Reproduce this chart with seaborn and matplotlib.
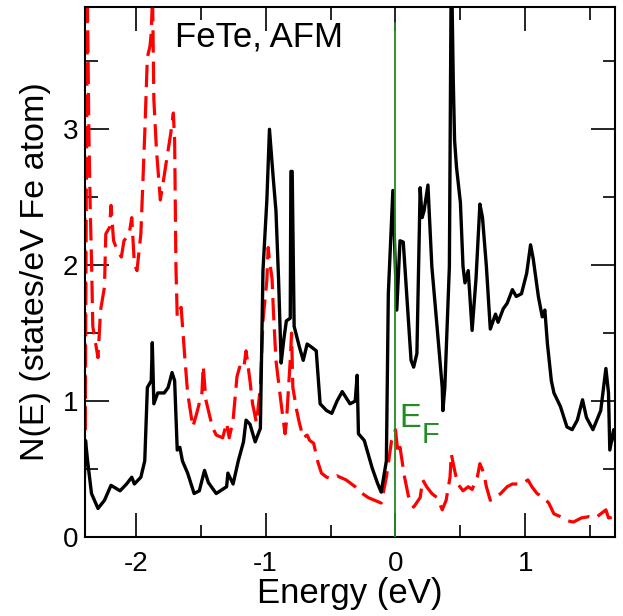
import numpy as np
import pandas as pd
import matplotlib
matplotlib.use("Agg")
import matplotlib.pyplot as plt
from matplotlib.ticker import MultipleLocator
import seaborn as sns

# Total density of states, solid curve (energy in eV, states/eV Fe atom)
energy_total = [
    -2.40, -2.386, -2.37, -2.34, -2.29, -2.24, -2.19, -2.12, -2.07, -2.03,
    -2.01, -1.96, -1.93, -1.91, -1.88, -1.872, -1.86, -1.83, -1.78, -1.75,
    -1.72, -1.70, -1.68, -1.66, -1.64, -1.60, -1.55, -1.51, -1.47, -1.44,
    -1.38, -1.30, -1.29, -1.25, -1.21, -1.17, -1.15, -1.12, -1.08, -1.04,
    -1.02, -0.99, -0.97, -0.94, -0.92, -0.90, -0.88, -0.86, -0.84, -0.81,
    -0.805, -0.795, -0.78, -0.74, -0.71, -0.68, -0.65, -0.61, -0.58, -0.53,
    -0.49, -0.45, -0.41, -0.35, -0.31, -0.295, -0.285, -0.24, -0.18, -0.14,
    -0.11, -0.07, -0.055, -0.02, 0.01, 0.035, 0.06, 0.09, 0.12, 0.14,
    0.165, 0.19, 0.205, 0.22, 0.25, 0.28, 0.32, 0.36, 0.365, 0.38,
    0.415, 0.43, 0.445, 0.455, 0.47, 0.50, 0.52, 0.535, 0.56, 0.59,
    0.62, 0.65, 0.67, 0.70, 0.73, 0.77, 0.79, 0.83, 0.86, 0.90,
    0.93, 0.97, 1.01, 1.04, 1.06, 1.08, 1.10, 1.13, 1.15, 1.17,
    1.20, 1.22, 1.27, 1.32, 1.36, 1.40, 1.44, 1.47, 1.52, 1.58,
    1.62, 1.64, 1.65, 1.68, 1.70,
]
dos_total = [
    0.27, 0.71, 0.56, 0.32, 0.21, 0.27, 0.38, 0.34, 0.39, 0.44,
    0.39, 0.44, 0.56, 1.10, 1.15, 1.43, 0.98, 1.06, 1.06, 1.10,
    1.21, 1.15, 0.64, 0.66, 0.56, 0.47, 0.32, 0.34, 0.49, 0.40,
    0.32, 0.37, 0.47, 0.39, 0.56, 0.70, 0.86, 0.83, 0.70, 0.80,
    1.96, 2.48, 3.00, 2.63, 2.40, 1.90, 1.28, 1.45, 1.59, 1.61,
    2.69, 2.69, 1.55, 1.40, 1.30, 1.42, 1.40, 1.37, 0.98, 0.93,
    0.91, 1.00, 1.07, 0.98, 1.00, 1.19, 0.76, 0.71, 0.51, 0.40,
    0.33, 0.56, 1.79, 2.55, 1.67, 2.18, 2.17, 1.74, 1.30, 1.25,
    1.35, 2.57, 2.35, 2.40, 2.59, 1.99, 1.55, 1.10, 0.93, 1.10,
    1.99, 4.30, 3.36, 2.92, 2.72, 2.46, 1.99, 1.87, 1.96, 1.52,
    1.90, 2.45, 2.35, 1.99, 1.53, 1.64, 1.58, 1.68, 1.72, 1.82,
    1.77, 1.79, 1.94, 2.15, 2.05, 1.91, 1.77, 1.62, 1.67, 1.42,
    1.15, 1.06, 0.96, 0.81, 0.79, 0.86, 1.01, 0.88, 0.79, 0.93,
    1.24, 1.06, 0.64, 0.79, 0.66,
]

# Partial (Te) density of states, dashed curve
energy_te = [
    -2.395, -2.388, -2.38, -2.372, -2.36, -2.35, -2.34, -2.33, -2.29, -2.27,
    -2.24, -2.23, -2.20, -2.19, -2.17, -2.15, -2.11, -2.09, -2.05, -2.03,
    -2.02, -2.01, -1.99, -1.96, -1.93, -1.91, -1.89, -1.88, -1.87, -1.86,
    -1.84, -1.81, -1.79, -1.75, -1.73, -1.71, -1.70, -1.69, -1.68, -1.65,
    -1.62, -1.60, -1.56, -1.53, -1.49, -1.48, -1.46, -1.41, -1.38, -1.33,
    -1.30, -1.28, -1.25, -1.22, -1.20, -1.17, -1.15, -1.12, -1.10, -1.07,
    -1.04, -1.02, -0.99, -0.98, -0.97, -0.95, -0.94, -0.92, -0.88, -0.85,
    -0.84, -0.81, -0.80, -0.79, -0.76, -0.74, -0.71, -0.68, -0.66, -0.63,
    -0.60, -0.57, -0.53, -0.49, -0.45, -0.38, -0.31, -0.27, -0.21, -0.16,
    -0.11, -0.07, -0.03, 0.00, 0.02, 0.035, 0.07, 0.10, 0.14, 0.19,
    0.21, 0.24, 0.28, 0.32, 0.36, 0.39, 0.42, 0.43, 0.46, 0.48,
    0.52, 0.56, 0.59, 0.63, 0.65, 0.68, 0.70, 0.73, 0.77, 0.81,
    0.86, 0.90, 0.93, 0.97, 1.02, 1.05, 1.09, 1.14, 1.18, 1.22,
    1.27, 1.32, 1.37, 1.43, 1.49, 1.54, 1.58, 1.62, 1.64, 1.70,
]
dos_te = [
    4.00, 0.76, 2.50, 4.00, 2.97, 2.43, 2.04, 1.55, 1.32, 1.67,
    1.84, 2.23, 2.28, 2.44, 2.18, 2.13, 2.06, 2.18, 2.23, 2.35,
    2.18, 2.01, 1.96, 2.23, 2.97, 3.53, 3.61, 3.71, 4.00, 3.22,
    2.85, 2.48, 2.60, 2.85, 2.97, 3.12, 2.92, 1.99, 1.62, 1.69,
    1.30, 1.06, 0.81, 0.91, 1.06, 1.26, 1.01, 0.81, 0.75, 0.73,
    0.84, 0.73, 0.86, 1.18, 1.25, 1.23, 1.37, 1.15, 0.98, 0.84,
    1.10, 1.59, 1.89, 2.13, 2.04, 1.90, 1.67, 1.30, 0.98, 0.76,
    0.84, 1.30, 1.50, 1.10, 0.93, 0.84, 0.73, 0.75, 0.71, 0.69,
    0.56, 0.47, 0.44, 0.43, 0.45, 0.42, 0.37, 0.33, 0.29, 0.27,
    0.25, 0.44, 0.71, 0.79, 0.61, 0.66, 0.44, 0.30, 0.22, 0.29,
    0.42, 0.37, 0.32, 0.29, 0.20, 0.27, 0.44, 0.61, 0.47, 0.39,
    0.34, 0.37, 0.35, 0.44, 0.54, 0.47, 0.37, 0.27, 0.29, 0.32,
    0.37, 0.39, 0.39, 0.39, 0.42, 0.37, 0.32, 0.29, 0.25, 0.17,
    0.15, 0.12, 0.11, 0.14, 0.15, 0.14, 0.17, 0.20, 0.14, 0.15,
]

fermi_energy = 0.0
x_ticks = [-2, -1, 0, 1]
y_ticks = [0, 1, 2, 3]

sns.set_style("ticks")
plt.rcParams["font.family"] = ["Liberation Sans", "DejaVu Sans"]
plt.rcParams["axes.unicode_minus"] = False
plt.rcParams["text.color"] = "black"
plt.rcParams["axes.labelcolor"] = "black"
plt.rcParams["xtick.color"] = "black"
plt.rcParams["ytick.color"] = "black"

green = "#228b22"

fig = plt.figure(figsize=(6.23, 6.16), dpi=100)
ax = fig.add_axes([85 / 623, 1 - 537 / 616, 530 / 623, 530 / 616])

df_total = pd.DataFrame({"E": energy_total, "N": dos_total})
df_te = pd.DataFrame({"E": energy_te, "N": dos_te})

sns.lineplot(data=df_te, x="E", y="N", ax=ax, color="#ff0000", lw=2.3,
             sort=False, estimator=None, zorder=2)
ax.lines[-1].set_dashes((7, 2.8))
sns.lineplot(data=df_total, x="E", y="N", ax=ax, color="black", lw=2.4,
             sort=False, estimator=None, zorder=3)

ax.axvline(fermi_energy, ymin=0, ymax=3.78 / 3.9, color=green, lw=1.3, zorder=4)

ax.set_xlim(-2.39, 1.69)
ax.set_ylim(0, 3.9)
ax.set_xticks(x_ticks)
ax.set_yticks(y_ticks)
ax.xaxis.set_minor_locator(MultipleLocator(0.5))
ax.yaxis.set_minor_locator(MultipleLocator(0.5))
ax.tick_params(which="both", direction="in", top=True, right=True,
               color="black", labelcolor="black", width=1.2)
ax.tick_params(which="major", length=17, labelsize=20)
ax.tick_params(which="minor", length=9)
ax.tick_params(axis="x", which="major", pad=10)
ax.tick_params(axis="y", which="major", pad=5)
for s in ax.spines.values():
    s.set_linewidth(1.5)
    s.set_color("black")

ax.set_xlabel("Energy (eV)", fontsize=25, labelpad=0, color="black")
ax.set_ylabel("N(E) (states/eV Fe atom)", fontsize=24.5, labelpad=8, color="black")

ax.text(-1.697, 3.608, "FeTe, AFM", fontsize=25, color="black",
        ha="left", va="baseline")
ax.text(0.028, 0.81, "E", fontsize=23.5, color=green, ha="left", va="baseline")
ax.text(0.198, 0.692, "F", fontsize=21, color=green, ha="left", va="baseline")

fig.savefig("out.png", dpi=100)
